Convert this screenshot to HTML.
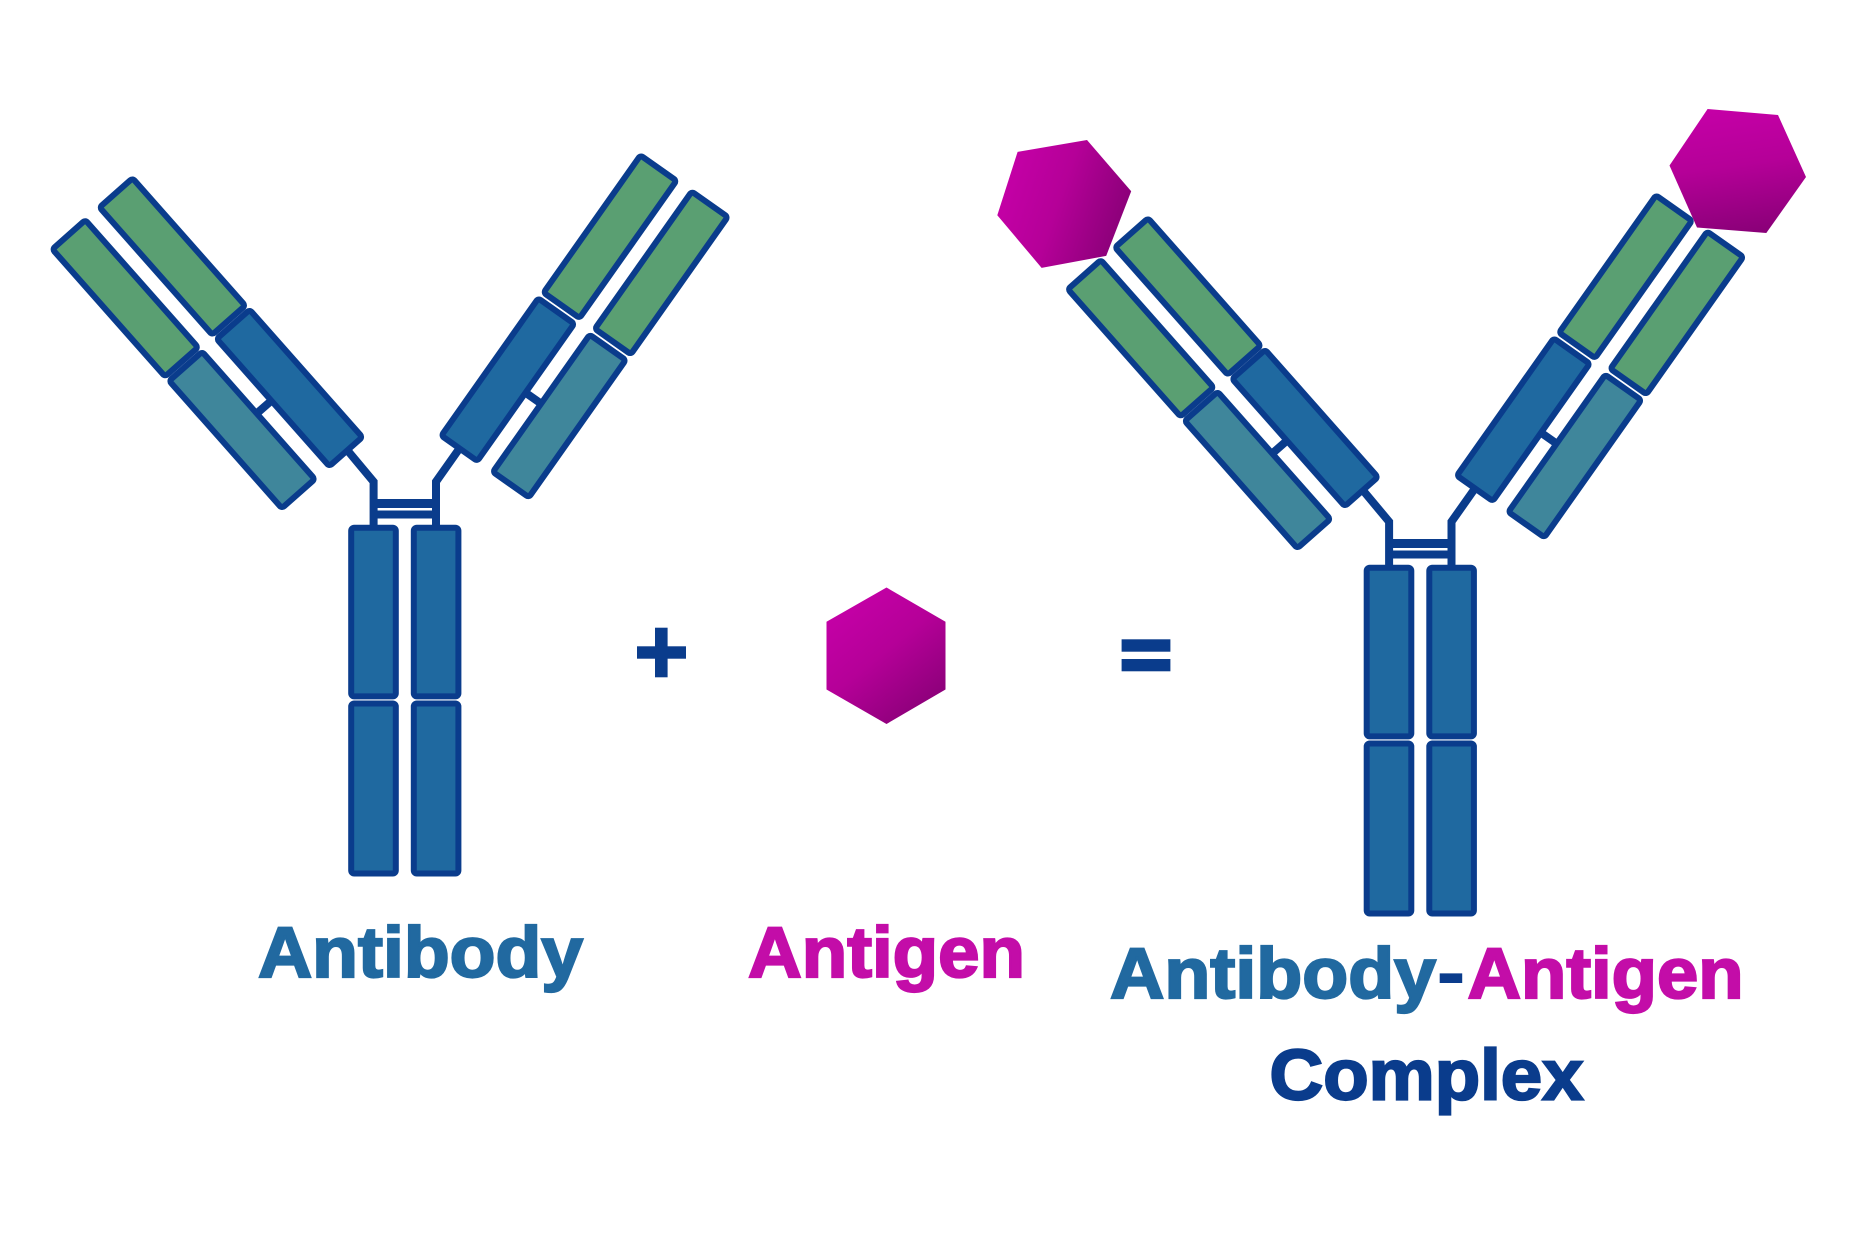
<!DOCTYPE html>
<html lang="en">
<head>
<meta charset="utf-8">
<title>Antibody + Antigen = Antibody-Antigen Complex</title>
<style>
html,body{margin:0;padding:0;background:#fff;}
svg{display:block;}
text{font-family:"Liberation Sans",Arial,sans-serif;font-weight:700;font-size:71px;stroke-width:2.2px;stroke-linejoin:miter;stroke-miterlimit:2.5;}
</style>
</head>
<body>
<svg xmlns="http://www.w3.org/2000/svg" width="1875" height="1250" viewBox="0 0 1875 1250">
<defs>
<linearGradient id="gC" x1="0.2" y1="0.1" x2="0.8" y2="0.95"><stop offset="0" stop-color="#c400a6"/><stop offset="0.45" stop-color="#b50098"/><stop offset="1" stop-color="#8a0078"/></linearGradient>
<linearGradient id="gL" x1="0.05" y1="0.35" x2="0.95" y2="0.65"><stop offset="0" stop-color="#c400a6"/><stop offset="0.45" stop-color="#b50098"/><stop offset="1" stop-color="#8a0078"/></linearGradient>
<linearGradient id="gR" x1="0.45" y1="0" x2="0.6" y2="1"><stop offset="0" stop-color="#c400a6"/><stop offset="0.45" stop-color="#b50098"/><stop offset="1" stop-color="#8a0078"/></linearGradient>
<g id="ab">
  <g fill="none" stroke="#0a3c8c" stroke-width="8">
    <path d="M343,445 L373.6,481.7 V528"/>
    <path d="M464,442 L436,481.7 V528"/>
    <path d="M255,415 L271,401"/>
    <path d="M524,391.6 L545,406.4"/>
  </g>
  <rect x="377" y="499" width="56" height="9" fill="#0a3c8c"/>
  <rect x="377" y="510.5" width="56" height="8" fill="#0a3c8c"/>
  <g stroke="#0a3c8c" stroke-width="6" stroke-linejoin="round">
    <g fill="#5a9f72">
      <rect x="-85" y="-22" width="170" height="44" rx="3" transform="translate(172.4 256.5) rotate(48.5)"/>
      <rect x="-85" y="-22" width="170" height="44" rx="3" transform="translate(125.2 298.3) rotate(48.5)"/>
      <rect x="-84" y="-22" width="168" height="44" rx="3" transform="translate(610 236.7) rotate(-54.8)"/>
      <rect x="-84" y="-22" width="168" height="44" rx="3" transform="translate(661.3 272.9) rotate(-54.8)"/>
    </g>
    <g fill="#1f69a0">
      <rect x="-85" y="-22" width="170" height="44" rx="3" transform="translate(289.5 388) rotate(48.5)"/>
      <rect x="-84" y="-22" width="168" height="44" rx="3" transform="translate(507.8 379.7) rotate(-54.8)"/>
      <rect x="351.2" y="527.8" width="44.6" height="168.6" rx="3"/>
      <rect x="413.8" y="527.8" width="44.6" height="168.6" rx="3"/>
      <rect x="351.2" y="703.5" width="44.6" height="170" rx="3"/>
      <rect x="413.8" y="703.5" width="44.6" height="170" rx="3"/>
    </g>
    <g fill="#3f869b">
      <rect x="-85" y="-22" width="170" height="44" rx="3" transform="translate(242 430) rotate(48.5)"/>
      <rect x="-84" y="-22" width="168" height="44" rx="3" transform="translate(559.3 416) rotate(-54.8)"/>
    </g>
  </g>
</g>
</defs>
<rect width="1875" height="1250" fill="#ffffff"/>

<use href="#ab"/>
<use href="#ab" x="1015.5" y="40"/>

<polygon points="886.5,587.5 945.5,621.7 945.5,689.5 886.5,724 826.5,689.5 826.5,621.7" fill="url(#gC)"/>
<polygon points="1017.6,151.9 1087,140 1131.2,191.3 1106.2,255.9 1041.6,267.9 997.3,215.2" fill="url(#gL)"/>
<polygon points="1707.6,109 1778,115 1806,177 1766.3,233 1697,227.5 1669.5,165.5" fill="url(#gR)"/>

<g fill="#0a3c8c">
  <rect x="655" y="627.7" width="12.6" height="49.6"/>
  <rect x="637" y="646.3" width="49" height="12.4"/>
  <rect x="1121.6" y="639.3" width="48.8" height="12.4"/>
  <rect x="1121.6" y="659" width="48.8" height="12.3"/>
</g>

<text x="258" y="976.8" textLength="325" lengthAdjust="spacingAndGlyphs" fill="#2169a0" stroke="#2169a0">Antibody</text>
<text x="748" y="976.8" textLength="277" lengthAdjust="spacingAndGlyphs" fill="#c30da8" stroke="#c30da8">Antigen</text>
<text x="1110" y="997.8" textLength="326" lengthAdjust="spacingAndGlyphs" fill="#2169a0" stroke="#2169a0">Antibody</text>
<text x="1437" y="997" textLength="28" lengthAdjust="spacingAndGlyphs" fill="#0a3c8c" stroke="#0a3c8c" style="stroke-width:1px;font-size:72px">-</text>
<text x="1467.5" y="997.8" textLength="276" lengthAdjust="spacingAndGlyphs" fill="#c30da8" stroke="#c30da8">Antigen</text>
<text x="1269.5" y="1099.3" textLength="314" lengthAdjust="spacingAndGlyphs" fill="#0a3c8c" stroke="#0a3c8c">Complex</text>
</svg>
</body>
</html>
